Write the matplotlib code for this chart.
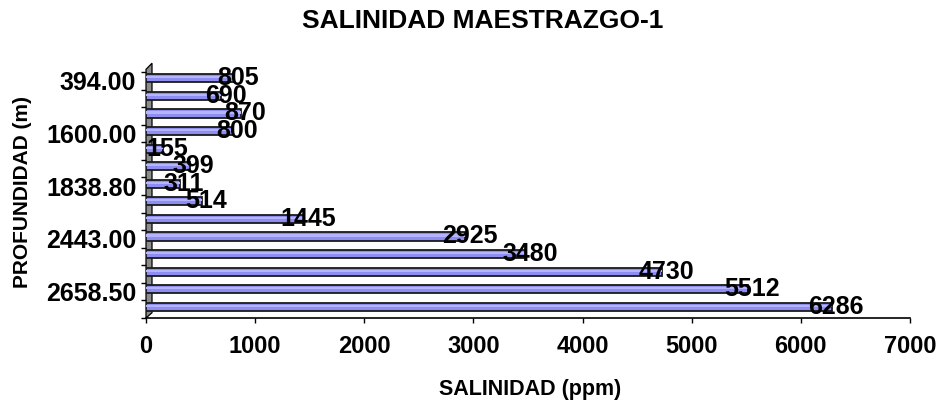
import matplotlib
matplotlib.use("Agg")
import matplotlib.pyplot as plt
from matplotlib.patches import Polygon
import numpy as np

plt.rcParams['font.family'] = ['Liberation Sans', 'DejaVu Sans']

depths = ["394.00", "", "", "1600.00", "", "", "1838.80", "", "", "2443.00", "", "", "2658.50", ""]
salinity = [805, 690, 870, 800, 155, 399, 311, 514, 1445, 2925, 3480, 4730, 5512, 6286]
xticks = [0, 1000, 2000, 3000, 4000, 5000, 6000, 7000]

W, H = 939, 403
fig = plt.figure(figsize=(W / 100, H / 100), dpi=100)
ax = fig.add_axes([146 / W, 1 - 318 / H, (910 - 146) / W, (318 - 72) / H])

n = len(salinity)
ypos = np.arange(n) + 0.5 - 0.14
bh = 0.46

# left gray wall
wall = Polygon([[0, 14.0], [0, -0.15], [55, -0.5], [55, 13.7]], closed=True,
               facecolor='#8c8c8c', edgecolor='black', lw=0.9, zorder=1, clip_on=False)
ax.add_patch(wall)

ax.barh(ypos, salinity, height=bh, color='#8e8ef2', edgecolor='#1a1a1a', lw=1.3, zorder=3)
ax.barh(ypos - bh * 0.12, salinity, height=bh * 0.28, color='#b4b4ff', lw=0, zorder=4)

for y, v in zip(ypos, salinity):
    ax.annotate(str(v), (v, y), xytext=(3, 0), textcoords='offset points',
                ha='center', va='center', fontsize=18, fontweight='bold', zorder=5)

ax.set_xlim(0, 7000)
ax.set_ylim(14, 0)
ax.set_xticks(xticks)
ax.set_xticklabels([str(t) for t in xticks], fontsize=17, fontweight='bold')
ax.set_yticks(np.arange(n) + 0.5)
ax.set_yticklabels(depths, fontsize=18, fontweight='bold')
ax.set_yticks(np.arange(n + 1), minor=True)
ax.tick_params(axis='y', which='major', length=0, pad=7)
ax.tick_params(axis='y', which='minor', length=3.5, width=1)
ax.tick_params(axis='x', which='major', length=3.5, width=1, pad=9)

for s in ['top', 'right']:
    ax.spines[s].set_visible(False)
ax.spines['left'].set_visible(False)
ax.spines['bottom'].set_linewidth(1.2)

fig.text(530 / W, 1 - 390 / H, 'SALINIDAD (ppm)', ha='center', va='center',
         fontsize=15.5, fontweight='bold')
fig.text(23 / W, 1 - 192 / H, 'PROFUNDIDAD (m)', ha='center', va='center',
         rotation=90, fontsize=15, fontweight='bold')
fig.text(483 / W, 1 - 21 / H, 'SALINIDAD MAESTRAZGO-1', ha='center', va='center',
         fontsize=19, fontweight='bold')

fig.savefig('out.png', dpi=100)
